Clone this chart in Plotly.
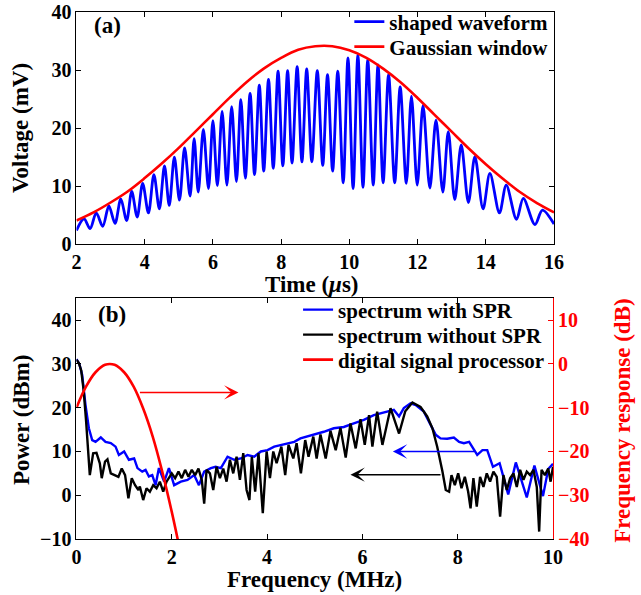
import plotly.graph_objects as go

# ---------------- (a) shaped waveform in the time domain ----------------
wave_t = [2.00, 2.22, 2.40, 2.58, 2.77, 2.95, 3.13, 3.30, 3.47, 3.62, 3.78, 3.94,
          4.11, 4.27, 4.43, 4.58, 4.72, 4.87, 5.02, 5.17, 5.33, 5.45, 5.57, 5.72,
          5.87, 6.00, 6.13, 6.27, 6.41, 6.55, 6.69, 6.82, 6.95, 7.09, 7.22, 7.36,
          7.49, 7.63, 7.77, 7.91, 8.05, 8.19, 8.32, 8.47, 8.61, 8.75, 8.90, 9.06,
          9.22, 9.36, 9.51, 9.66, 9.82, 9.96, 10.11, 10.25, 10.40, 10.54, 10.70,
          10.84, 10.99, 11.15, 11.33, 11.49, 11.67, 11.82, 11.99, 12.16, 12.36,
          12.54, 12.74, 12.90, 13.09, 13.28, 13.49, 13.68, 13.92, 14.12, 14.40,
          14.60, 14.90, 15.10, 15.44, 15.66, 16.00]
wave_mv = [2.4, 4.4, 2.7, 5.4, 3.1, 6.6, 3.6, 7.8, 4.1, 9.1, 4.7, 10.5,
           5.4, 12.0, 6.1, 13.5, 6.7, 15.0, 7.6, 16.6, 8.3, 18.2, 9.0, 19.8,
           9.6, 21.3, 10.1, 22.9, 10.2, 23.7, 10.8, 24.9, 11.4, 26.0, 12.0, 27.4,
           12.6, 28.4, 13.1, 29.8, 13.5, 29.9, 14.0, 30.6, 14.2, 30.2, 14.2, 29.9,
           13.6, 29.2, 12.6, 29.8, 10.6, 32.1, 9.6, 32.6, 9.8, 31.8, 10.2,
           30.9, 10.6, 29.2, 10.6, 27.1, 10.5, 25.5, 10.2, 23.9, 9.7,
           21.4, 9.0, 19.4, 7.7, 17.1, 7.2, 15.1, 6.1, 12.2, 5.4,
           10.2, 4.3, 7.9, 3.4, 5.9, 3.5]

gauss_t = [2.0, 2.5, 3.0, 3.5, 4.0, 4.5, 5.0, 5.5, 6.0, 6.5, 7.0, 7.5, 8.0, 8.5,
           9.0, 9.5, 10.0, 10.5, 11.0, 11.5, 12.0, 12.5, 13.0, 13.5, 14.0, 14.5,
           15.0, 15.5, 16.0]
gauss_mv = [4.1, 5.5, 7.2, 9.1, 11.4, 13.9, 16.6, 19.5, 22.4, 25.3, 28.0, 30.3,
            32.1, 33.5, 34.1, 34.1, 33.4, 32.1, 30.2, 27.9, 25.2, 22.3, 19.4,
            16.5, 13.8, 11.3, 9.0, 7.1, 5.5]

# ---------------- (b) power spectra and processor response ----------------
spr_f = [0.00, 0.06, 0.12, 0.19, 0.26, 0.33, 0.40, 0.51, 0.61, 0.72, 0.82, 0.89,
         1.00, 1.10, 1.21, 1.28, 1.38, 1.45, 1.52, 1.59, 1.66, 1.73, 1.84, 1.94,
         2.05, 2.19, 2.33, 2.47, 2.57, 2.68, 2.82, 2.92, 3.03, 3.17, 3.31, 3.45,
         3.59, 3.73, 3.87, 4.01, 4.15, 4.29, 4.43, 4.57, 4.70, 4.84, 4.98, 5.19,
         5.40, 5.61, 5.82, 6.03, 6.24, 6.45, 6.66, 6.77, 6.87, 7.01, 7.12, 7.29,
         7.43, 7.54, 7.64, 7.78, 7.92, 8.03, 8.13, 8.24, 8.41, 8.52, 8.62, 8.74,
         8.88, 9.06, 9.22, 9.45, 9.61, 9.79, 9.90, 10.00]
spr_dbm = [31.1, 30.0, 27.5, 20.6, 15.3, 12.6, 12.2, 13.2, 12.2, 11.9, 11.1, 9.2,
           10.0, 8.1, 8.4, 6.2, 5.4, 5.8, 4.3, 4.6, 2.3, 6.2, 3.1, 6.2,
           2.3, 3.1, 3.5, 4.6, 2.3, 5.4, 6.2, 6.5, 6.2, 8.8, 8.1, 8.4,
           9.2, 8.8, 10.0, 10.3, 11.1, 11.5, 11.9, 12.2, 13.0, 13.4, 13.8, 14.5,
           15.3, 15.6, 16.4, 17.2, 18.3, 18.9, 19.5, 18.0, 19.9, 21.0, 20.6, 19.1,
           16.1, 13.8, 13.0, 12.9, 13.2, 12.2, 11.9, 12.2, 9.2, 10.3, 10.3, 6.5,
           7.3, 0.2, 7.5, -0.5, 6.8, -0.2, 6.0, 7.2]

nospr_f = [0.00, 0.05, 0.10, 0.15, 0.20, 0.25, 0.28, 0.35, 0.42, 0.49, 0.53, 0.60,
           0.65, 0.72, 0.81, 0.88, 0.95, 1.02, 1.09, 1.16, 1.23, 1.30, 1.33, 1.40,
           1.47, 1.54, 1.61, 1.68, 1.75, 1.82, 1.89, 1.93, 2.00, 2.07, 2.14, 2.21,
           2.28, 2.35, 2.42, 2.49, 2.56, 2.63, 2.68, 2.73, 2.80, 2.87, 2.94, 3.01,
           3.08, 3.15, 3.22, 3.29, 3.36, 3.43, 3.50, 3.57, 3.63, 3.68, 3.75, 3.82,
           3.91, 3.99, 4.06, 4.13, 4.20, 4.30, 4.38, 4.45, 4.55, 4.62, 4.71, 4.80,
           4.87, 4.97, 5.04, 5.12, 5.23, 5.33, 5.44, 5.54, 5.65, 5.75, 5.86, 5.96,
           6.05, 6.14, 6.21, 6.31, 6.42, 6.59, 6.77, 6.90, 7.05, 7.22, 7.36, 7.47,
           7.57, 7.68, 7.75, 7.82, 7.87, 7.94, 8.01, 8.08, 8.15, 8.22, 8.27, 8.33,
           8.40, 8.47, 8.54, 8.61, 8.68, 8.75, 8.82, 8.89, 8.96, 9.03, 9.10, 9.17,
           9.24, 9.31, 9.38, 9.45, 9.52, 9.59, 9.66, 9.71, 9.76, 9.83, 9.90, 9.95,
           10.00]
nospr_dbm = [31.0, 30.2, 28.5, 24.0, 17.2, 9.6, 4.6, 9.6, 9.7, 7.3, 3.9, 7.7,
             8.2, 5.0, 4.6, 4.2, 6.1, 4.6, -0.7, 3.9, 2.3, 1.2, 2.0, -1.1,
             1.6, 0.8, 2.3, 1.6, 3.1, 0.8, 3.1, 3.9, 5.0, 3.9, 5.4, 3.9,
             5.8, 4.2, 5.8, 4.6, 6.1, 3.5, -1.9, 5.8, 5.0, 1.2, 6.5, 3.9,
             6.1, 3.1, 8.1, 5.0, 8.8, 3.5, 9.6, 1.2, -1.1, 8.8, 0.8, 9.6,
             -4.1, 10.0, 3.9, 10.0, 7.3, 11.1, 4.6, 11.5, 8.4, 11.9, 5.0, 12.6,
             8.8, 13.4, 8.4, 13.9, 8.4, 14.7, 10.3, 15.4, 8.6, 16.4, 10.7, 17.4,
             11.5, 18.3, 11.1, 19.1, 11.5, 19.9, 14.1, 19.2, 21.2, 20.2, 18.0, 15.3,
             11.1, 5.4, 1.2, 0.8, 4.6, 2.3, 5.0, 1.6, 4.2, 0.8, -3.0, 3.9,
             -2.6, 4.2, 1.9, 5.0, 3.1, 5.4, 4.2, -4.9, 4.6, 1.2, 3.9, 5.0,
             1.9, 5.8, 3.5, 5.4, 4.6, 5.8, 1.9, -8.3, 5.8, 4.6, 6.1, 3.1,
             6.5]

dsp_f = [0.0, 0.2, 0.4, 0.6, 0.8, 1.0, 1.2, 1.4, 1.6, 1.8, 2.0, 2.15]
dsp_db = [-10.0, -5.2, -1.9, -0.2, -0.2, -1.9, -5.2, -10.2, -16.6, -24.6, -33.8, -41.4]

x_ticks_a = [2, 4, 6, 8, 10, 12, 14, 16]
y_ticks_a = [0, 10, 20, 30, 40]
x_ticks_b = [0, 2, 4, 6, 8, 10]
y_ticks_b = [-10, 0, 10, 20, 30, 40]
y_ticks_r = [-40, -30, -20, -10, 0, 10]

SERIF = "Liberation Serif"
BLUE = "#0000FF"
RED = "#FF0000"

fig = go.Figure()

fig.add_trace(go.Scatter(x=wave_t, y=wave_mv, mode="lines", name="shaped waveform",
                         line=dict(color=BLUE, width=2.8, shape="spline", smoothing=0.9),
                         xaxis="x", yaxis="y", legend="legend"))
fig.add_trace(go.Scatter(x=gauss_t, y=gauss_mv, mode="lines", name="Gaussian window",
                         line=dict(color=RED, width=2.6, shape="spline"),
                         xaxis="x", yaxis="y", legend="legend2"))

fig.add_trace(go.Scatter(x=spr_f, y=spr_dbm, mode="lines", name="spectrum with SPR",
                         line=dict(color=BLUE, width=2.4),
                         xaxis="x2", yaxis="y2", legend="legend3"))
fig.add_trace(go.Scatter(x=nospr_f, y=nospr_dbm, mode="lines", name="spectrum without SPR",
                         line=dict(color="black", width=2.4),
                         xaxis="x2", yaxis="y2", legend="legend4"))
fig.add_trace(go.Scatter(x=dsp_f, y=dsp_db, mode="lines", name="digital signal processor",
                         line=dict(color=RED, width=2.6, shape="spline"),
                         xaxis="x2", yaxis="y3", legend="legend5"))

tick_font = dict(family=SERIF, size=20, color="black", weight="bold")
axis_common = dict(showline=True, linecolor="black", linewidth=1, ticks="inside",
                   ticklen=5, tickcolor="black", showgrid=False, zeroline=False,
                   tickfont=tick_font, automargin=False)

legend_font = dict(family=SERIF, size=21, color="black", weight="bold")


def legend_row(x, y):
    # one legend entry per box so every row sits at its own height
    return dict(x=x, y=y, xanchor="left", yanchor="middle", bgcolor="rgba(0,0,0,0)",
                itemwidth=30, font=legend_font, visible=True)


fig.update_layout(
    width=641, height=595,
    margin=dict(l=0, r=0, t=0, b=0),
    paper_bgcolor="white", plot_bgcolor="white",
    showlegend=True,
    xaxis=dict(domain=[0.1193, 0.8643], anchor="y", range=[2, 16],
               tickvals=x_ticks_a, mirror="ticks", **axis_common),
    yaxis=dict(domain=[0.5894, 0.9798], anchor="x", range=[0, 40],
               tickvals=y_ticks_a, mirror="ticks", **axis_common),
    xaxis2=dict(domain=[0.1193, 0.8627], anchor="y2", range=[0, 10],
                tickvals=x_ticks_b, mirror="ticks", **axis_common),
    yaxis2=dict(domain=[0.0941, 0.4987], anchor="x2", range=[-10, 45],
                tickvals=y_ticks_b, **axis_common),
    yaxis3=dict(overlaying="y2", anchor="x2", side="right", range=[-40, 15],
                tickvals=y_ticks_r, showline=True, linecolor=RED, linewidth=1,
                ticks="inside", ticklen=5, tickcolor=RED, showgrid=False,
                zeroline=False, automargin=False,
                tickfont=dict(family=SERIF, size=20, color=RED, weight="bold")),
    legend=legend_row(0.545, 1 - 22 / 595),
    legend2=legend_row(0.545, 1 - 47 / 595),
    legend3=legend_row(0.465, 1 - 310 / 595),
    legend4=legend_row(0.465, 1 - 335 / 595),
    legend5=legend_row(0.465, 1 - 360 / 595),
)

title_font = dict(family=SERIF, size=23, color="black", weight="bold")
annotations = [
    dict(text="Voltage (mV)", x=0.0328, y=0.785, textangle=-90),
    dict(text="Power (dBm)", x=0.0328, y=0.294, textangle=-90),
    dict(text="Frequency response (dB)", x=0.970, y=0.294, textangle=-90,
         font=dict(family=SERIF, size=23, color=RED, weight="bold")),
    dict(text="Time (<i>μ</i>s)", x=0.487, y=1 - 284.5 / 595),
    dict(text="Frequency (MHz)", x=0.490, y=1 - 579 / 595),
]
for a in annotations:
    fig.add_annotation(xref="paper", yref="paper", showarrow=False,
                       xanchor="center", yanchor="middle",
                       font=a.pop("font", title_font), **a)

fig.add_annotation(text="(a)", x=2.92, y=37.6, xref="x", yref="y", showarrow=False,
                   font=dict(family=SERIF, size=23, color="black", weight="bold"))
fig.add_annotation(text="(b)", x=0.745, y=41.4, xref="x2", yref="y2", showarrow=False,
                   font=dict(family=SERIF, size=23, color="black", weight="bold"))

# arrows pointing each curve to its own axis
arrow_style = dict(showarrow=True, arrowhead=3, arrowsize=1.6, arrowwidth=1.5, text="")
fig.add_annotation(x=3.40, y=23.5, ax=1.30, ay=23.5, xref="x2", yref="y2",
                   axref="x2", ayref="y2", arrowcolor=RED, **arrow_style)
fig.add_annotation(x=6.64, y=10.0, ax=8.38, ay=10.0, xref="x2", yref="y2",
                   axref="x2", ayref="y2", arrowcolor=BLUE, **arrow_style)
fig.add_annotation(x=5.75, y=4.7, ax=7.67, ay=4.7, xref="x2", yref="y2",
                   axref="x2", ayref="y2", arrowcolor="black", **arrow_style)

fig.write_html("out.html")
